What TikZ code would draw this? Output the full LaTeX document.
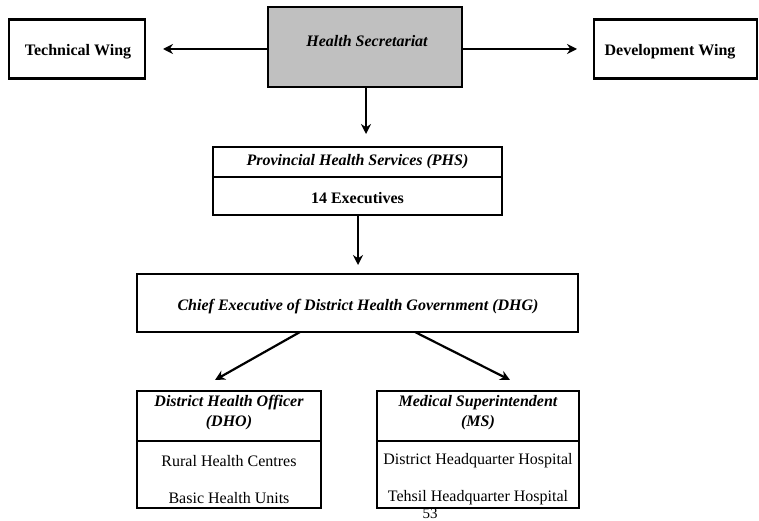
\documentclass[tikz,border=0pt]{standalone}
\usepackage{fontspec}
\setmainfont{Liberation Serif}
\usetikzlibrary{arrows.meta}
\definecolor{hsgray}{RGB}{192,192,192}
\tikzset{
  boxline/.style={draw=black, line width=2.4pt},
  lbl/.style={font=\fontsize{16}{18}\selectfont\bfseries, inner sep=0pt},
  ilbl/.style={font=\fontsize{16}{18}\selectfont\bfseries\itshape, inner sep=0pt},
  rlbl/.style={font=\fontsize{16}{18}\selectfont, inner sep=0pt},
  arr/.style={line width=2.2pt, -{Stealth[length=10pt,width=10pt]}},
}
\begin{document}
\begin{tikzpicture}[x=1pt,y=-1pt]
\useasboundingbox (0,0) rectangle (759,521);
% top row
\node[boxline, minimum width=136pt, minimum height=59pt, inner sep=0pt] (tw) at (77,49) {};
\node[lbl] (twt) at (78,52) {Technical Wing};
\node[boxline, fill=hsgray, minimum width=194pt, minimum height=80pt, inner sep=0pt] (hs) at (365,47) {};
\node[ilbl] (hst) at (367,41) {Health Secretariat};
\node[boxline, minimum width=163pt, minimum height=59pt, inner sep=0pt] (dw) at (675.5,49) {};
\node[lbl] (dwt) at (670,52) {Development Wing};
\coordinate (twtip) at (163,49);
\coordinate (dwtip) at (577,49);
\draw[arr] (hs.west |- twtip) -- (twtip);
\draw[arr] (hs.east |- dwtip) -- (dwtip);
% PHS
\node[boxline, minimum width=289pt, minimum height=68pt, inner sep=0pt] (phs) at (357.5,181) {};
\draw[line width=1.6pt] (phs.west |- 0,177) -- (phs.east |- 0,177);
\node[ilbl] (phst) at (357.5,162) {Provincial Health Services (PHS)};
\node[lbl] (phsb) at (357.5,198) {14 Executives};
\coordinate (phstip) at (366,134);
\draw[arr] (hs.south -| phstip) -- (phstip);
% CEO
\node[boxline, minimum width=441pt, minimum height=58pt, inner sep=0pt] (ceo) at (357.5,303) {};
\node[ilbl] (ceot) at (358,307) {Chief Executive of District Health Government (DHG)};
\coordinate (ceotip) at (358,265);
\draw[arr] (phs.south -| ceotip) -- (ceotip);
% DHO
\node[boxline, minimum width=184pt, minimum height=117pt, inner sep=0pt] (dho) at (229,449.5) {};
\draw[line width=1.6pt] (dho.west |- 0,441) -- (dho.east |- 0,441);
\node[ilbl] (dho1) at (229,403) {District Health Officer};
\node[ilbl] (dho2) at (229,423) {(DHO)};
\node[rlbl] (dho3) at (229,461) {Rural Health Centres};
\node[rlbl] (dho4) at (229,498) {Basic Health Units};
% MS
\node[boxline, minimum width=202pt, minimum height=117pt, inner sep=0pt] (ms) at (478,449.5) {};
\draw[line width=1.6pt] (ms.west |- 0,441) -- (ms.east |- 0,441);
\node[ilbl] (ms1) at (478,403) {Medical Superintendent};
\node[ilbl] (ms2) at (478,423) {(MS)};
\node[rlbl] (ms3) at (478,461) {District Headquarter Hospital};
\node[rlbl] (ms4) at (478,498) {Tehsil Headquarter Hospital};
% diagonal arrows
\coordinate (c1) at (300,332);
\coordinate (c2) at (415,332);
\coordinate (t1) at (215,380);
\coordinate (t2) at (510,380);
\draw[arr] (c1) -- (t1);
\draw[arr] (c2) -- (t2);
% page number
\node[rlbl, font=\fontsize{15}{16}\selectfont] (pg) at (430,514) {53};
\end{tikzpicture}
\end{document}
